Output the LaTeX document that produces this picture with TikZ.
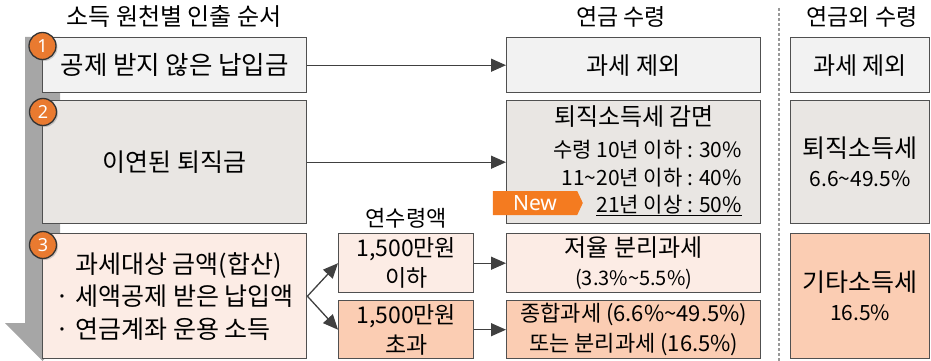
\documentclass[tikz,border=0pt]{standalone}
\usepackage{fontspec}
\setmainfont{Noto Sans CJK KR}
\newfontfamily\numfont{Noto Sans}
\usetikzlibrary{arrows.meta,shapes.symbols,shadows}
\definecolor{bordc}{HTML}{505050}
\definecolor{grayA}{HTML}{F2F2F2}
\definecolor{grayB}{HTML}{E9E6E3}
\definecolor{peachA}{HTML}{FCECE5}
\definecolor{peachB}{HTML}{FBCDB3}
\definecolor{circC}{HTML}{E97A30}
\definecolor{newC}{HTML}{F47B20}
\definecolor{barC}{HTML}{A6A6A6}
\definecolor{arrC}{HTML}{404040}
\definecolor{dashC}{HTML}{999999}
\newcommand{\fs}[1]{\fontsize{#1}{#1}\selectfont}
\tikzset{
  box/.style={draw=bordc, line width=1.4pt, inner sep=0pt, anchor=north west, align=center},
  conn/.style={draw=arrC, line width=1.3pt, -{Triangle[length=15pt,width=13pt]}},
  numc/.style={circle, fill=circC, draw=black!80, line width=1.3pt, minimum size=27pt, inner sep=0pt,
     text=white, font=\numfont\bfseries\fs{18}, drop shadow={shadow xshift=1.5pt, shadow yshift=-1.5pt, opacity=0.35}},
  hdr/.style={inner sep=0pt, font=\fs{23}},
  plain/.style={inner sep=0pt},
}
\begin{document}
\begin{tikzpicture}[x=1pt, y=-1pt]
\useasboundingbox (0,0) rectangle (931,361);
% left order arrow
\fill[barC] (25,37) -- (60,37) -- (60,323) -- (80,323) -- (42.5,361) -- (5,323) -- (25,323) -- cycle;
% headers
\node[hdr, font=\fs{24}] (h1) at (174,17) {소득 원천별 인출 순서};
\node[hdr] (h2) at (621,17) {연금 수령};
\node[hdr] (h3) at (862,17) {연금외 수령};
\node[hdr, font=\fs{22}] (h4) at (406,218) {연수령액};
% dashed separator
\coordinate (dt) at (779,8);
\coordinate (db) at (779,361);
\draw[dashC, line width=1.3pt, dash pattern=on 3pt off 2pt] (dt) -- (db);
% left boxes
\node[box, fill=grayA, minimum width=264pt, minimum height=55pt, font=\fs{25.5}] (b1) at (42,37) {공제 받지 않은 납입금};
\node[box, fill=grayB, minimum width=264pt, minimum height=123pt, font=\fs{25}] (b2) at (42,100) {이연된 퇴직금};
\node[box, fill=peachA, minimum width=264pt, minimum height=125pt, align=left, font=\fontsize{25}{32.5}\selectfont] (b3) at (42,233)
  {\phantom{· }과세대상 금액(합산)\\· 세액공제 받은 납입액\\· 연금계좌 운용 소득};
% number circles
\node[numc] (n1) at (42.5,46) {1};
\node[numc] (n2) at (43,112) {2};
\node[numc] (n3) at (43,245) {3};
% middle boxes
\node[box, fill=peachA, minimum width=135pt, minimum height=59pt, font=\fontsize{23}{30}\selectfont] (s1) at (338,233) {1,500만원\\이하};
\node[box, fill=peachB, minimum width=135pt, minimum height=58pt, font=\fontsize{23}{30}\selectfont] (s2) at (338,300) {1,500만원\\초과};
\node[box, fill=grayA, minimum width=254pt, minimum height=55pt, font=\fs{24}] (m1) at (506,37) {과세 제외};
\node[box, fill=grayB, minimum width=254pt, minimum height=123pt] (m2) at (506,100) {};
\node[plain, font=\fs{24}] (m2t) at (634,117) {퇴직소득세 감면};
\node[plain, font=\fs{21}, anchor=base east] (m2a) at (742,157) {수령 10년 이하 : 30\%};
\node[plain, font=\fs{21}, anchor=base east] (m2b) at (742,185) {11\char`\~20년 이하 : 40\%};
\node[plain, font=\fs{21}, anchor=base east] (m2c) at (742,212) {\underline{21년 이상 : 50\%}};
\node[box, fill=peachA, minimum width=254pt, minimum height=59pt, font=\fontsize{24}{29}\selectfont] (m3) at (506,233) {저율 분리과세\\{\fs{20}(3.3\%\char`\~5.5\%)}};
\node[box, fill=peachB, minimum width=254pt, minimum height=58pt, font=\fontsize{22}{30}\selectfont] (m4) at (506,300) {종합과세 (6.6\%\char`\~49.5\%)\\또는 분리과세 (16.5\%)};
% New tag
\node[signal, signal to=east, signal pointer angle=130, fill=newC, minimum width=90pt, minimum height=24pt, inner sep=0pt,
  text=white, font=\numfont\fs{21}] (new) at (535,203) {New};
% right boxes
\node[box, fill=grayA, minimum width=139pt, minimum height=55pt, font=\fs{24}] (r1) at (790,37) {과세 제외};
\node[box, fill=grayB, minimum width=139pt, minimum height=123pt, font=\fontsize{25}{29}\selectfont] (r2) at (790,100) {퇴직소득세\\{\fs{21}6.6\char`\~49.5\%}};
\node[box, fill=peachB, minimum width=139pt, minimum height=125pt, font=\fontsize{25}{29}\selectfont] (r3) at (790,233) {기타소득세\\{\fs{21}16.5\%}};
% connectors
\draw[conn] (b1.east) -- (m1.west);
\draw[conn] (b2.east) -- (m2.west);
\draw[conn] (b3.east) -- (s1.west);
\draw[conn] (b3.east) -- (s2.west);
\draw[conn] (s1.east) -- (m3.west);
\draw[conn] (s2.east) -- (m4.west);
\end{tikzpicture}
\end{document}
